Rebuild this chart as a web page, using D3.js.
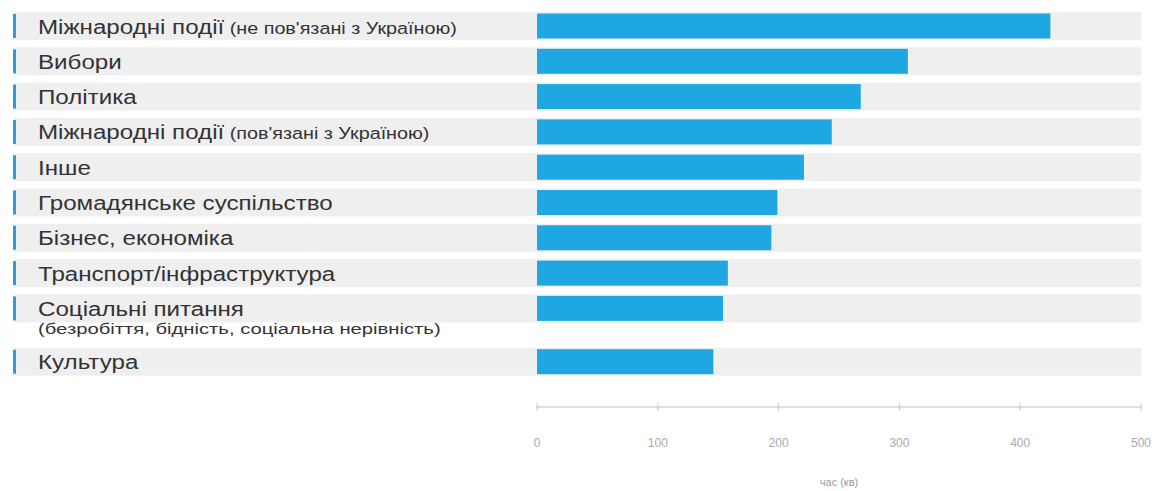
<!DOCTYPE html>
<html><head><meta charset="utf-8">
<script src="https://cdn.jsdelivr.net/npm/d3@7"></script>
<style>body{margin:0;background:#fff;}svg{display:block;font-family:"Liberation Sans",Arial,sans-serif;}</style>
</head><body><svg id="c" width="1159" height="491"></svg>
<script>
const categories = ["Міжнародні події","Вибори","Політика","Міжнародні події","Інше","Громадянське суспільство","Бізнес, економіка","Транспорт/інфраструктура","Соціальні питання","Культура"];
const notes = ["(не пов'язані з Україною)","","","(пов'язані з Україною)","","","","","",""];
const secondLines = ["","","","","","","","","(безробіття, бідність, соціальна нерівність)",""];
const values = [425,307,268,244,221,199,194,158,154,146];
const ticks = [0,100,200,300,400,500];
const axisTitle = "час (кв)";

const svg = d3.select("#c");
const x = d3.scaleLinear().domain([0,500]).range([537,1141]);
const idx = d3.range(categories.length);
const yBase = d3.scaleLinear().domain([0,1]).range([26,61.3]);
// extra vertical offset for rows that follow a two-line label
const offsets = idx.map(i => d3.sum(secondLines.slice(0,i), s => s ? 18 : 0));
const yc = i => yBase(i) + offsets[i];

const rowH = 28, barH = 25;
const g = svg.append("g");
g.selectAll("rect.bg").data(idx).join("rect")
  .attr("x",14).attr("width",1141-14)
  .attr("y",i=>yc(i)-rowH/2).attr("height",rowH)
  .attr("fill","#efefef");
g.selectAll("rect.mk").data(idx).join("rect")
  .attr("x",13).attr("width",3)
  .attr("y",i=>yc(i)-12).attr("height",24)
  .attr("fill","#2a9fd6");
g.selectAll("rect.bar").data(idx).join("rect")
  .attr("x",x(0)).attr("width",i=>x(values[i])-x(0))
  .attr("y",i=>yc(i)-barH/2).attr("height",barH)
  .attr("fill","#1fa7e1");

const sx = 1.15, tx = 38;
const t = g.selectAll("text.lab").data(idx).join("text")
  .attr("transform",i=>`translate(${tx},${yc(i)+7.5}) scale(${sx},1)`)
  .attr("fill","#333").attr("font-size",21);
t.append("tspan").text(i=>categories[i]);
t.append("tspan").attr("font-size",17.2).text(i=>notes[i] ? " "+notes[i] : "");
g.selectAll("text.sub").data(idx.filter(i=>secondLines[i])).join("text")
  .attr("transform",i=>`translate(${tx},${yc(i)+26}) scale(1.35,1)`)
  .attr("fill","#333").attr("font-size",15)
  .text(i=>secondLines[i]);

const axY = 407;
const ax = svg.append("g").attr("transform",`translate(0,${axY})`);
ax.append("line").attr("x1",x(0)).attr("x2",x(500)).attr("stroke","#d4d4d4").attr("stroke-width",1.5);
ax.selectAll("line.tk").data(ticks).join("line")
  .attr("x1",d=>x(d)).attr("x2",d=>x(d)).attr("y1",-4).attr("y2",4)
  .attr("stroke","#c8c8c8");
ax.selectAll("text").data(ticks).join("text")
  .attr("x",d=>x(d)).attr("y",40).attr("text-anchor","middle")
  .attr("fill","#aaa").attr("font-size",12).text(d=>d);
svg.append("text").attr("x",(x(0)+x(500))/2).attr("y",486).attr("text-anchor","middle")
  .attr("fill","#999").attr("font-size",11).text(axisTitle);
</script></body></html>
